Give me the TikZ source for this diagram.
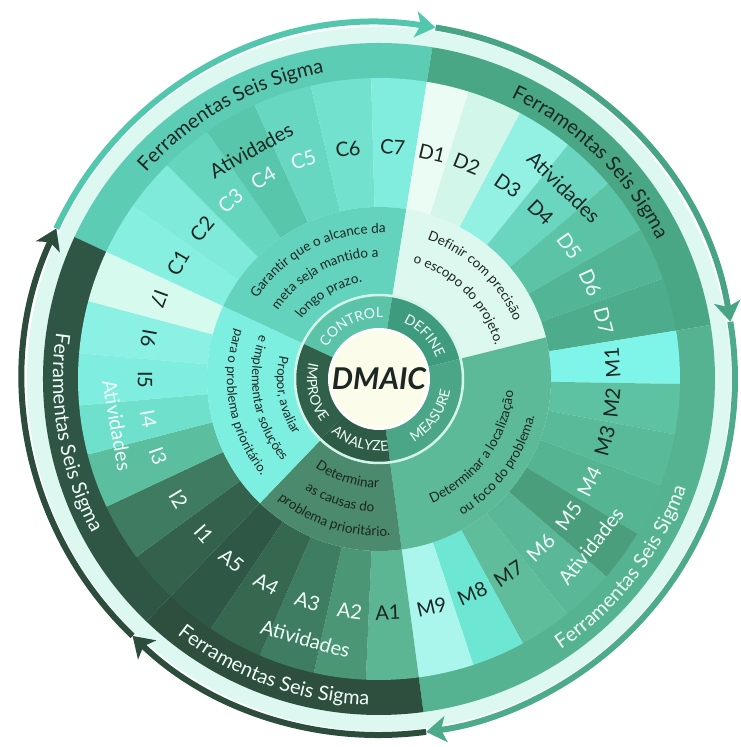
\documentclass[tikz,border=0pt]{standalone}
\usepackage{fontspec}
\setmainfont{Lato}
\usetikzlibrary{arrows.meta,decorations.text}

% text colours
\definecolor{inkdark}{HTML}{1C2622}
\definecolor{inklight}{HTML}{F0FFFA}
% rings
\definecolor{gapring}{HTML}{DDF7F1}
\definecolor{discfill}{HTML}{FBFCEA}
\definecolor{discedge}{HTML}{D2F4EA}
% phase ring
\definecolor{phC}{HTML}{5BC3A7}
\definecolor{phD}{HTML}{3F9B7D}
\definecolor{phM}{HTML}{4BA687}
\definecolor{phA}{HTML}{2E5B46}
\definecolor{phI}{HTML}{30604A}
% goal ring
\definecolor{tgC}{HTML}{63D3BD}
\definecolor{tgD}{HTML}{DDF8EE}
\definecolor{tgM}{HTML}{5DBA98}
\definecolor{tgA}{HTML}{4B8A6C}
\definecolor{tgI}{HTML}{7DEFE1}
% tools ring
\definecolor{frC}{HTML}{5CCDB4}
\definecolor{frD}{HTML}{4AA786}
\definecolor{frM}{HTML}{56B391}
\definecolor{frA}{HTML}{2E4E3E}
\definecolor{frI}{HTML}{2F5644}
% cycle arrows
\definecolor{arC}{HTML}{52C7AE}
\definecolor{arD}{HTML}{47A585}
\definecolor{arM}{HTML}{4DAA8A}
\definecolor{arA}{HTML}{2C4C3C}
\definecolor{arI}{HTML}{2C4C3C}

% annular sector: colour, start angle, end angle, inner radius, outer radius
\newcommand\annsector[5]{%
  \fill[#1] (#2:#4) arc[start angle=#2,end angle=#3,radius=#4]
    -- (#3:#5) arc[start angle=#3,end angle=#2,radius=#5] -- cycle;}

% text on an arc, letters facing outwards: radius, centre angle, half span, colour, size, text
\newcommand\arcout[6]{%
  \path[decorate,decoration={text along path,text align=center,
      text={|\color{#4}\fontsize{#5}{#5}\selectfont|#6}}]
    ({#2+#3}:#1) arc[start angle={#2+#3},end angle={#2-#3},radius=#1];}
% text on an arc, letters facing the centre
\newcommand\arcin[6]{%
  \path[decorate,decoration={text along path,text align=center,
      text={|\color{#4}\fontsize{#5}{#5}\selectfont|#6}}]
    ({#2-#3}:#1) arc[start angle={#2-#3},end angle={#2+#3},radius=#1];}

\tikzset{
  flow/.style={line width=6pt,-{Stealth[length=20pt,width=26pt,inset=5pt]}},
  actlabel/.style={font=\fontsize{20}{21}\selectfont,inner sep=0pt},
  actword/.style={font=\fontsize{20}{22}\selectfont,inner sep=0pt},
}

\begin{document}
\begin{tikzpicture}
\useasboundingbox (-379pt,-368pt) rectangle (362pt,379pt);
\fill[white] (-379pt,-368pt) rectangle (362pt,379pt);

% light band under the cycle arrows
\fill[gapring] (0,0) circle[radius=352pt];

% cycle arrows, one per phase
\coordinate (kC) at (155:356pt);
\coordinate (kD) at (80.85:356pt);
\coordinate (kM) at (9.25:356pt);
\coordinate (kA) at (-82.4:356pt);
\coordinate (kI) at (-133.8:356pt);
\draw[flow,arC] (kC) arc[start angle=155,end angle=80.85,radius=356pt];
\draw[flow,arD] (kD) arc[start angle=80.85,end angle=9.25,radius=356pt];
\draw[flow,arM] (kM) arc[start angle=9.25,end angle=-82.4,radius=356pt];
\draw[flow,arA] (kA) arc[start angle=-82.4,end angle=-133.8,radius=356pt];
\draw[flow,arI] (kI) arc[start angle=-133.8,end angle=-205,radius=356pt];

% tools ring
\annsector{frC}{155}{80.85}{300pt}{336pt}
\annsector{frD}{80.85}{9.25}{300pt}{336pt}
\annsector{frM}{9.25}{-82.4}{300pt}{336pt}
\annsector{frA}{-82.4}{-133.8}{300pt}{336pt}
\annsector{frI}{-133.8}{-205}{300pt}{336pt}

% activity wedges
\foreach \s/\e/\c in {
  155/144.85/86EFE0, 144.85/134.75/7FE9DA, 134.75/124.85/66D5BE,
  124.85/114.45/58C6AB, 114.45/103.1/68D7C1, 103.1/91.5/72E1CD, 91.5/80.85/80EDDF,
  80.85/72.65/EAFCF3, 72.65/62.05/D2F7EA, 62.05/51.1/93F1E4, 51.1/40.45/6BD6BF,
  40.45/29.75/5CC4A6, 29.75/19.5/52B696, 19.5/9.25/4DAC8C,
  9.25/-0.95/7FF4E9, -0.95/-10.6/5CC2A1, -10.6/-20.65/58BA98, -20.65/-30.9/55B593,
  -30.9/-41/4A9E7C, -41/-51.3/5AB797, -51.3/-61.45/5FBD9C, -61.45/-71.75/6DE6D4,
  -71.75/-82.4/AAF6EC,
  -82.4/-92.5/5CB593, -92.5/-102.5/4A9675, -102.5/-113.3/3E7D61,
  -113.3/-123.95/366850, -123.95/-133.8/2F5745,
  -133.8/-143.75/33614C, -143.75/-154.9/3F7B60, -154.9/-165.45/5BBE9F,
  -165.45/-174.95/6FE0CB, -174.95/-184.9/7FEDE0, -184.9/-195/8AF1E4, -195/-205/D6FAEE}
  {\definecolor{wfill}{HTML}{\c}\annsector{wfill}{\s}{\e}{172pt}{301pt}}

% goal ring
\annsector{tgC}{155}{80.85}{85pt}{172pt}
\annsector{tgD}{80.85}{14}{85pt}{172pt}
\annsector{tgM}{14}{-82.4}{85pt}{172pt}
\annsector{tgA}{-82.4}{-133.8}{85pt}{172pt}
\annsector{tgI}{-133.8}{-205}{85pt}{172pt}

% phase ring
\annsector{phC}{155}{80.85}{49pt}{84pt}
\annsector{phD}{80.85}{14}{49pt}{84pt}
\annsector{phM}{14}{-82.4}{49pt}{84pt}
\annsector{phA}{-82.4}{-133.8}{49pt}{84pt}
\annsector{phI}{-133.8}{-205}{49pt}{84pt}
\draw[discedge,line width=2.5pt] (0,0) circle[radius=84pt];
\fill[white] (0,0) circle[radius=51pt];
\fill[discfill] (0,0) circle[radius=48pt];
\node[font=\fontsize{30}{30}\selectfont\bfseries\itshape,text=inkdark] (dmaic) at (0,0) {DMAIC};

% phase names
\arcout{61pt}{117.5}{80}{inklight}{14}{CONTROL}
\arcout{61pt}{43.4}{80}{inklight}{14}{DEFINE}
\arcin{72pt}{-35}{80}{inklight}{14}{MEASURE}
\arcin{72pt}{253}{80}{inklight}{14}{ANALYZE}
\arcin{72pt}{192}{80}{inklight}{14}{IMPROVE}

% goals
\arcout{146pt}{117}{60}{inkdark}{13.5}{Garantir que o alcance da}
\arcout{122pt}{118}{60}{inkdark}{13.5}{meta seja mantido a}
\arcout{98pt}{121}{60}{inkdark}{13.5}{longo prazo.}
\arcout{147pt}{47}{60}{inkdark}{13.5}{Definir com precisão}
\arcout{121pt}{45}{60}{inkdark}{13.5}{o escopo do projeto.}
\arcin{135pt}{-36}{60}{inkdark}{13.5}{Determinar a localização}
\arcin{160pt}{-36}{60}{inkdark}{13.5}{ou foco do problema.}
\arcin{109pt}{252}{60}{inkdark}{13.5}{Determinar}
\arcin{133pt}{252}{60}{inkdark}{13.5}{as causas do}
\arcin{157pt}{252}{60}{inkdark}{13.5}{problema prioritário.}
\arcin{102pt}{190}{60}{inkdark}{13}{Propor, avaliar}
\arcin{127pt}{190}{60}{inkdark}{13}{e implementar soluções}
\arcin{152pt}{190}{60}{inkdark}{13}{para o problema prioritário.}

% tools ring captions
\arcout{311pt}{119.3}{50}{inkdark}{20}{Ferramentas Seis Sigma}
\arcout{311pt}{45.7}{50}{inkdark}{20}{Ferramentas Seis Sigma}
\arcin{326pt}{-37.8}{50}{inklight}{20}{Ferramentas Seis Sigma}
\arcin{326pt}{250}{50}{inklight}{20}{Ferramentas Seis Sigma}
\arcin{326pt}{190}{50}{inklight}{20}{Ferramentas Seis Sigma}

% activity labels, upper half (letters facing outwards)
\foreach \n/\a/\t in {C1/150/inkdark, C2/139.7/inkdark, C3/129.8/inklight,
  C4/119.9/inklight, C5/109/inklight, C6/97.7/inkdark, C7/86.6/inkdark,
  D1/76.8/inkdark, D2/67.8/inkdark, D3/56.3/inkdark, D4/45.9/inkdark,
  D5/35/inklight, D6/24.5/inklight, D7/14.5/inklight}
  {\node[actlabel,text=\t,rotate=\a-90] (\n) at (\a:232pt) {\n};}
% activity labels, lower half (letters facing the centre)
\foreach \n/\a/\t in {M1/4/inkdark, M2/-5.9/inkdark, M3/-15.3/inkdark,
  M4/-26/inklight, M5/-35.8/inklight, M6/-46.2/inklight, M7/-56.4/inkdark,
  M8/-66.5/inkdark, M9/-77/inkdark,
  A1/-87.8/inkdark, A2/-97.2/inklight, A3/-107.8/inklight, A4/-118.8/inklight,
  A5/-129.1/inklight,
  I1/-138.5/inklight, I2/-149/inklight, I3/-160.8/inklight, I4/-170.1/inklight,
  I5/-179.8/inkdark, I6/-190/inkdark, I7/-200/inkdark}
  {\node[actlabel,text=\t,rotate=\a+90] (\n) at (\a:234pt) {\n};}

% "Atividades" captions
\node[actword,text=inkdark,rotate=29.2] (atC) at (119.2:262pt) {Atividades};
\node[actword,text=inkdark,rotate=-44] (atD) at (46:266pt) {Atividades};
\node[actword,text=inklight,rotate=51.7] (atM) at (-38.3:270pt) {Atividades};
\node[actword,text=inklight,rotate=-15.8] (atA) at (254.2:270pt) {Atividades};
\node[actword,text=inklight,rotate=-80] (atI) at (190:266pt) {Atividades};
\end{tikzpicture}
\end{document}
